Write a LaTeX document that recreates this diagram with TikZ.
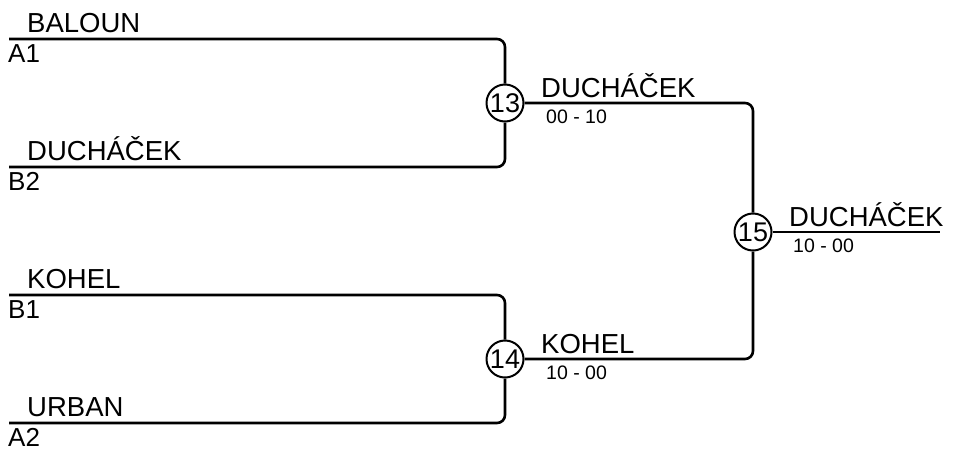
\documentclass[tikz,border=0pt]{standalone}
\usepackage{fontspec}
\setmainfont{Liberation Sans}
\begin{document}
\begin{tikzpicture}[x=1pt,y=-1pt,
  conn/.style={line width=2.6pt, rounded corners=8pt},
  match/.style={circle, draw, line width=2pt, minimum size=37pt, inner sep=0pt, fill=white, font=\fontsize{27}{27}\selectfont},
  player/.style={anchor=base west, inner sep=0pt, font=\fontsize{27.5}{27.5}\selectfont},
  seed/.style={anchor=base west, inner sep=0pt, font=\fontsize{26}{26}\selectfont},
  score/.style={anchor=base west, inner sep=0pt, font=\fontsize{19.5}{19.5}\selectfont}]
\useasboundingbox (0,0) rectangle (953,448);

% match circles
\node[match] (m13) at (505,103) {13};
\node[match] (m14) at (505,359) {14};
\node[match] (m15) at (753,232) {15};

% free ends
\coordinate (a1) at (9,39);
\coordinate (b2) at (9,167);
\coordinate (b1) at (9,295);
\coordinate (a2) at (9,423);
\coordinate (fin) at (940,232);

% connectors
\draw[conn] (a1) -| (m13.north);
\draw[conn] (b2) -| (m13.south);
\draw[conn] (b1) -| (m14.north);
\draw[conn] (a2) -| (m14.south);
\draw[conn] (m13.east) -| (m15.north);
\draw[conn] (m14.east) -| (m15.south);
\draw[conn] (m15.east) -- (fin);

% first round labels
\node[player] (n1) at (27,32) {BALOUN};
\node[seed]   (s1) at (8,62) {A1};
\node[player] (n2) at (27,160) {DUCHÁČEK};
\node[seed]   (s2) at (8,190) {B2};
\node[player] (n3) at (27,288) {KOHEL};
\node[seed]   (s3) at (8,318) {B1};
\node[player] (n4) at (27,416) {URBAN};
\node[seed]   (s4) at (8,446) {A2};

% winners and scores
\node[player] (w13) at (541,97) {DUCHÁČEK};
\node[score]  (r13) at (546,123) {00 - 10};
\node[player] (w14) at (541,353) {KOHEL};
\node[score]  (r14) at (546,379) {10 - 00};
\node[player] (w15) at (789,226) {DUCHÁČEK};
\node[score]  (r15) at (793,252) {10 - 00};
\end{tikzpicture}
\end{document}
